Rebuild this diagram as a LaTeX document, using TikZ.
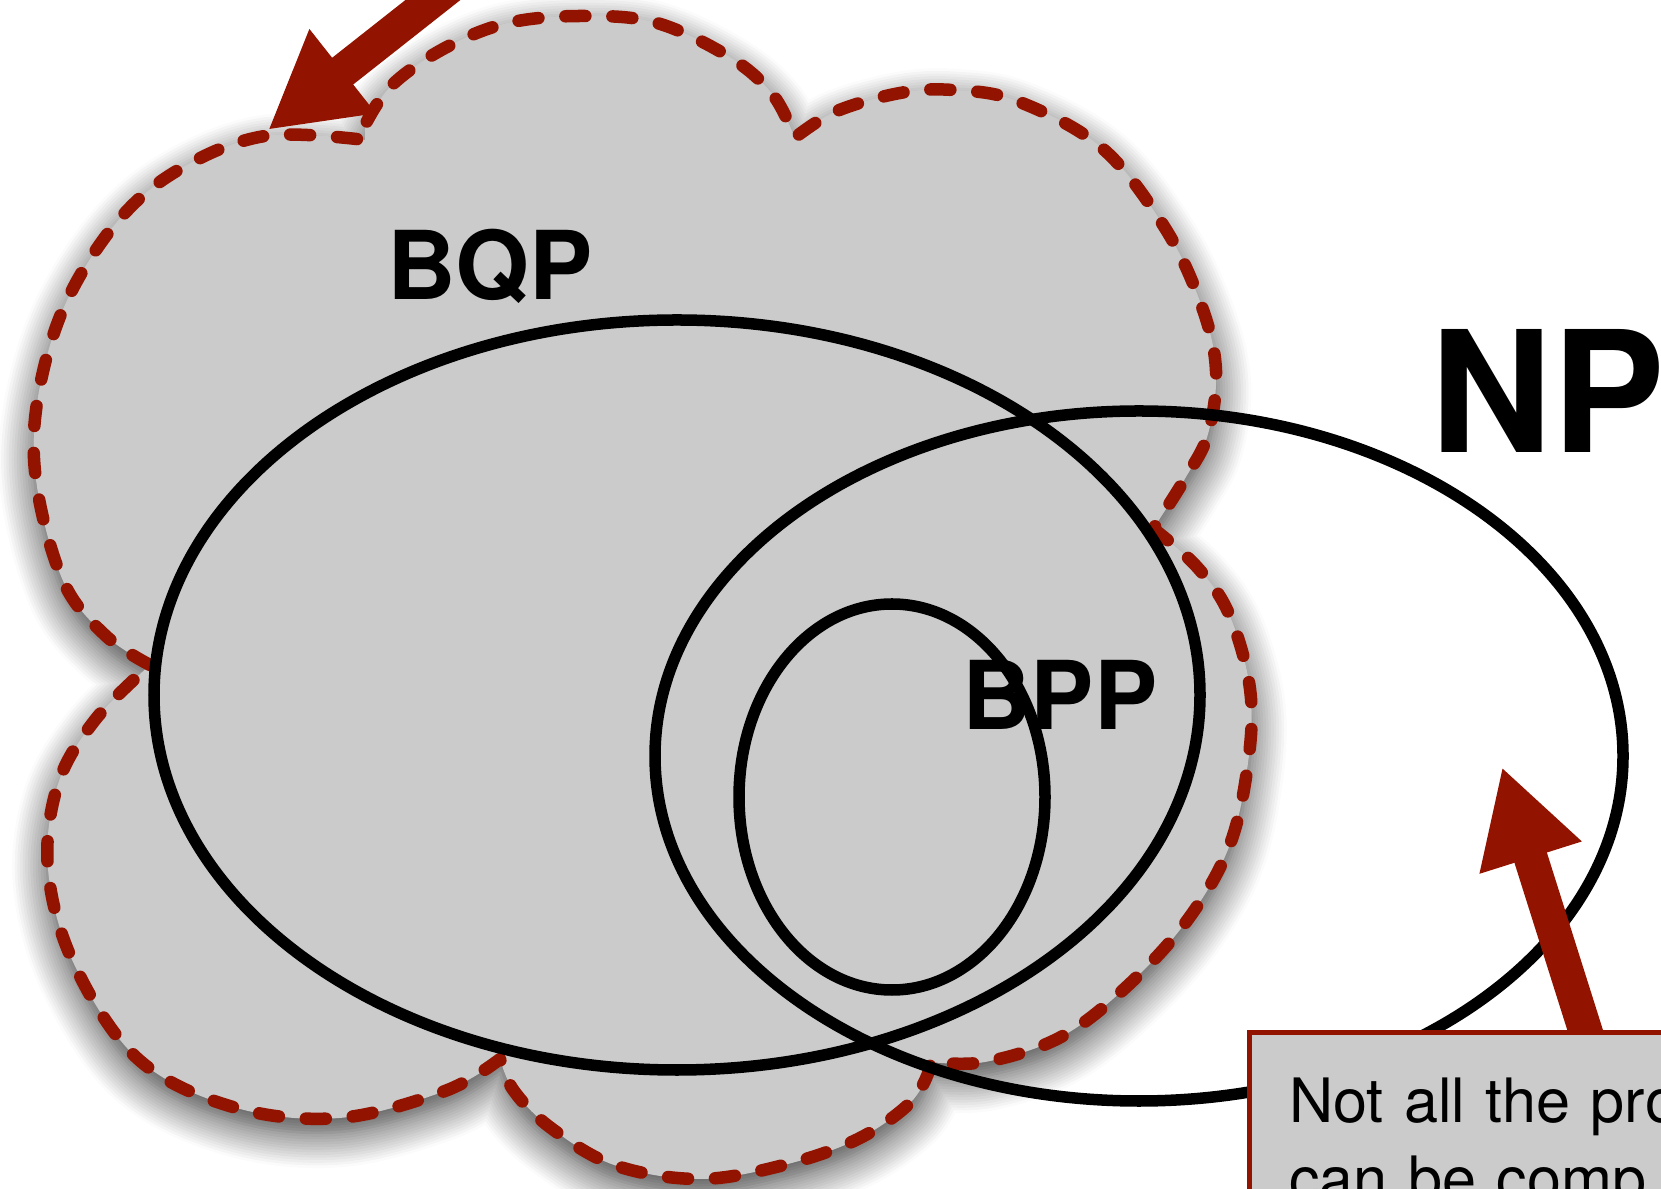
\documentclass[tikz,border=0pt]{standalone}
\usepackage{fontspec}
\setmainfont{TeX Gyre Heros}
\usetikzlibrary{arrows.meta,shadows.blur}
\definecolor{darkred}{RGB}{146,20,0}
\definecolor{cloudgray}{RGB}{203,203,203}

\begin{document}
\begin{tikzpicture}[x=0.01cm,y=0.01cm,
    cloudline/.style={draw=darkred,fill=cloudgray,line width=0.125cm,
      dash pattern=on 0.2cm off 0.27cm,line cap=round,line join=round},
    setline/.style={draw=black,line width=0.115cm},
    pointer/.style={draw=darkred,line width=0.34cm,
      -{Triangle[length=0.95cm,width=1.0cm]}},
    notebox/.style={draw=darkred,fill=cloudgray,line width=0.045cm,
      inner xsep=0.4cm,inner ysep=0.46cm,text width=4.6cm,align=left,
      font=\fontsize{17.4pt}{22.2pt}\selectfont},
    setlabel/.style={inner sep=0pt,font=\bfseries\fontsize{27pt}{32pt}\selectfont}]
  \useasboundingbox (0,0) rectangle (1661,1188);
  \clip (0,0) rectangle (1661,1188);
  \draw[cloudline,blur shadow={shadow xshift=0pt,shadow yshift=-4pt,
      shadow blur radius=10pt,shadow opacity=80,shadow blur steps=14}]
    plot[smooth,tension=0.6] coordinates {(150,523) (106,552) (64,605) (37,701)
      (37,785) (64,881) (117,966) (180,1019) (265,1052) (365,1048)}
    -- plot[smooth,tension=0.6] coordinates {(365,1063) (392,1103) (445,1140)
      (508,1165) (583,1172) (657,1165) (731,1130) (773,1093) (794,1052)}
    -- plot[smooth,tension=0.6] coordinates {(797,1052) (837,1077) (900,1095)
      (953,1098) (1017,1087) (1102,1040) (1165,960) (1202,881) (1216,817)
      (1208,754) (1186,711) (1155,662)}
    -- plot[smooth,tension=0.6] coordinates {(1155,658) (1197,621) (1229,574)
      (1250,499) (1248,425) (1229,341) (1186,266) (1123,198) (1059,150)
      (985,126) (930,126)}
    -- plot[smooth,tension=0.6] coordinates {(930,120) (911,86) (858,49)
      (784,23) (699,9) (614,23) (551,60) (514,97) (500,129)}
    -- plot[smooth,tension=0.6] coordinates {(500,129) (445,97) (339,70)
      (233,81) (138,129) (74,224) (48,319) (58,404) (95,468) (150,523)}
    -- cycle;

  \coordinate (bigc) at (677,493);
  \coordinate (npc) at (1139,432);
  \coordinate (bppc) at (892,391);
  \draw[setline] (bigc) ellipse [x radius=523,y radius=375];
  \draw[setline] (npc) ellipse [x radius=484,y radius=345];
  \draw[setline] (bppc) ellipse [x radius=153,y radius=193];

  \node[setlabel,anchor=base] (bqp) at (490,888) {BQP};
  \node[setlabel,anchor=base] (bpp) at (1060,458) {BPP};
  \node[setlabel,anchor=base west,font=\bfseries\fontsize{48pt}{56pt}\selectfont]
    (np) at (1430,735) {NP};

  \coordinate (taila) at (471,1218);
  \coordinate (tipa) at (268,1058);
  \draw[pointer] (taila) -- (tipa);
  \coordinate (tailb) at (1623,38);
  \coordinate (tipb) at (1502,421);
  \draw[pointer] (tailb) -- (tipb);
  \node[notebox,anchor=north west] (note) at (1247,158)
    {Not all the pro\\can be comp};
\end{tikzpicture}
\end{document}
